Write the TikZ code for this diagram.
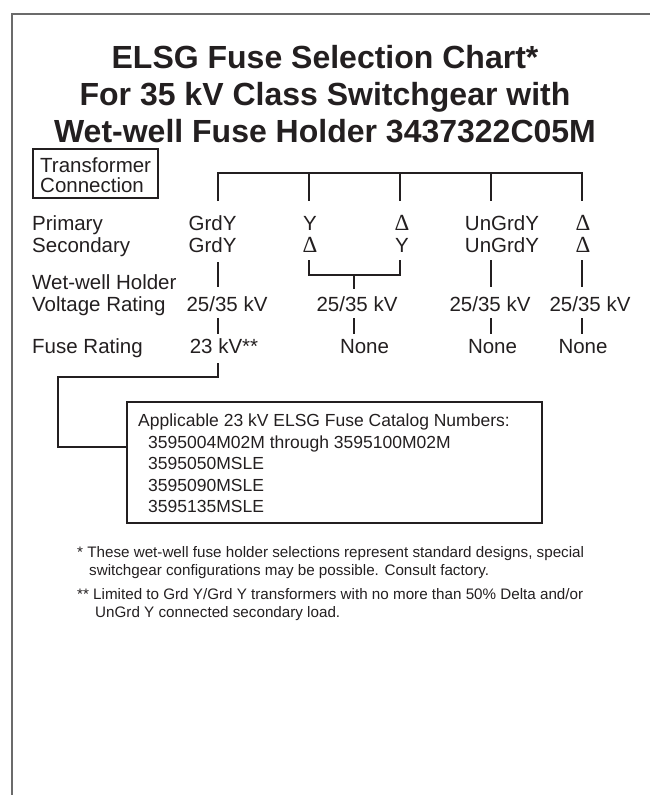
\documentclass[tikz,border=0pt]{standalone}
\usepackage{fontspec}
\setmainfont{Liberation Sans}
\newfontfamily\dfont{Liberation Serif}
\definecolor{ink}{HTML}{231F20}
\definecolor{framec}{HTML}{6B6B6B}
\newcommand{\dlt}{{\dfont\fontsize{23}{24}\selectfont Δ}}
\begin{document}
\begin{tikzpicture}[x=1pt,y=-1pt,
  ttl/.style={font=\fontsize{32}{36}\selectfont\bfseries, inner sep=0, anchor=base, text=ink},
  lbl/.style={font=\fontsize{20.5}{24}\selectfont, inner sep=0, anchor=base, text=ink},
  lbll/.style={lbl, anchor=base west},
  cat/.style={font=\fontsize{17.5}{21}\selectfont, inner sep=0, anchor=base west, text=ink},
  note/.style={font=\fontsize{15.2}{18}\selectfont, inner sep=0, anchor=base west, text=ink},
  ln/.style={draw=ink, line width=2.2pt},
  boxln/.style={draw=ink, line width=2pt}]
\useasboundingbox (0,0) rectangle (650,795);
% frame
\coordinate (fb) at (12,795);
\coordinate (fc) at (12,14);
\coordinate (fr) at (650,14);
\draw[framec, line width=2pt] (fb) -- (fc) -- (fr);
% title
\node[ttl] (t1) at (325,68) {ELSG Fuse Selection Chart*};
\node[ttl] (t2) at (325,105) {For 35 kV Class Switchgear with};
\node[ttl] (t3) at (325,142) {Wet-well Fuse Holder 3437322C05M};
% transformer connection box
\node[boxln, minimum width=125pt, minimum height=49pt, anchor=north west, inner sep=0] (tc) at (32,148) {};
\node[lbll] (tc1) at (40,172) {Transformer};
\node[lbll] (tc2) at (40,192) {Connection};
% row labels
\node[lbll] (lp) at (32,230.3) {Primary};
\node[lbll] (ls) at (32,252.3) {Secondary};
\node[lbll] (lw) at (32,289.3) {Wet-well Holder};
\node[lbll] (lv) at (32,311.3) {Voltage Rating};
\node[lbll] (lf) at (32,353.3) {Fuse Rating};
% primary
\node[lbl] (p1) at (212.5,230.3) {GrdY};
\node[lbl] (p2) at (310,230.3) {Y};
\node[lbl] (p3) at (402,230.3) {\dlt};
\node[lbl] (p4) at (502,230.3) {UnGrdY};
\node[lbl] (p5) at (583,230.3) {\dlt};
% secondary
\node[lbl] (s1) at (212.5,252.3) {GrdY};
\node[lbl] (s2) at (310,252.3) {\dlt};
\node[lbl] (s3) at (402,252.3) {Y};
\node[lbl] (s4) at (502,252.3) {UnGrdY};
\node[lbl] (s5) at (583,252.3) {\dlt};
% voltage ratings
\node[lbl] (v1) at (227,311.3) {25/35 kV};
\node[lbl] (v2) at (357,311.3) {25/35 kV};
\node[lbl] (v3) at (490,311.3) {25/35 kV};
\node[lbl] (v4) at (590,311.3) {25/35 kV};
% fuse ratings
\node[lbl] (f1) at (224,353.3) {23 kV**};
\node[lbl] (f2) at (364.5,353.3) {None};
\node[lbl] (f3) at (492.5,353.3) {None};
\node[lbl] (f4) at (583,353.3) {None};
% top bus
\coordinate (b1) at (218,173); \coordinate (b2) at (309,173); \coordinate (b3) at (400,173);
\coordinate (b4) at (491,173); \coordinate (b5) at (582,173);
\coordinate (d1) at (218,201); \coordinate (d2) at (309,201); \coordinate (d3) at (400,201);
\coordinate (d4) at (491,201); \coordinate (d5) at (582,201);
\draw[ln] (d1) -- (b1) -- (b5) -- (d5);
\draw[ln] (b2) -- (d2);
\draw[ln] (b3) -- (d3);
\draw[ln] (b4) -- (d4);
% secondary to voltage
\coordinate (e1a) at (218,262); \coordinate (e1b) at (218,287);
\coordinate (e2a) at (309,260); \coordinate (e2b) at (309,275);
\coordinate (e3a) at (400,260); \coordinate (e3b) at (400,275);
\coordinate (e23) at (354,275); \coordinate (e23b) at (354,289);
\coordinate (e4a) at (491,260); \coordinate (e4b) at (491,287);
\coordinate (e5a) at (582,260); \coordinate (e5b) at (582,287);
\draw[ln] (e1a) -- (e1b);
\draw[ln] (e2a) -- (e2b) -- (e3b) -- (e3a);
\draw[ln] (e23) -- (e23b);
\draw[ln] (e4a) -- (e4b);
\draw[ln] (e5a) -- (e5b);
% voltage to fuse
\foreach \x/\n in {218/1,354/2,491/3,582/4}{
  \coordinate (g\n a) at (\x,318); \coordinate (g\n b) at (\x,334);
  \draw[ln] (g\n a) -- (g\n b);
}
% catalog box
\node[boxln, minimum width=415pt, minimum height=121pt, anchor=north west, inner sep=0] (cb) at (126,401) {};
\node[cat] (c0) at (138,426.3) {Applicable 23 kV ELSG Fuse Catalog Numbers:};
\node[cat] (c1) at (148,448.3) {3595004M02M through 3595100M02M};
\node[cat] (c2) at (148,469.3) {3595050MSLE};
\node[cat] (c3) at (148,491.3) {3595090MSLE};
\node[cat] (c4) at (148,512.3) {3595135MSLE};
% connector from 23 kV to box
\coordinate (h1) at (218,363); \coordinate (h2) at (218,377);
\coordinate (h3) at (58,377); \coordinate (h4) at (58,447);
\draw[ln] (h1) -- (h2) -- (h3) -- (h4) -- (cb.west |- h4);
% footnotes
\node[note] (n1) at (77,557.5) {* These wet-well fuse holder selections represent standard designs, special};
\node[note] (n2) at (89,575.5) {switchgear configurations may be possible. Consult factory.};
\node[note] (n3) at (77,599.5) {** Limited to Grd Y/Grd Y transformers with no more than 50\% Delta and/or};
\node[note] (n4) at (95,617.5) {UnGrd Y connected secondary load.};
\end{tikzpicture}
\end{document}
